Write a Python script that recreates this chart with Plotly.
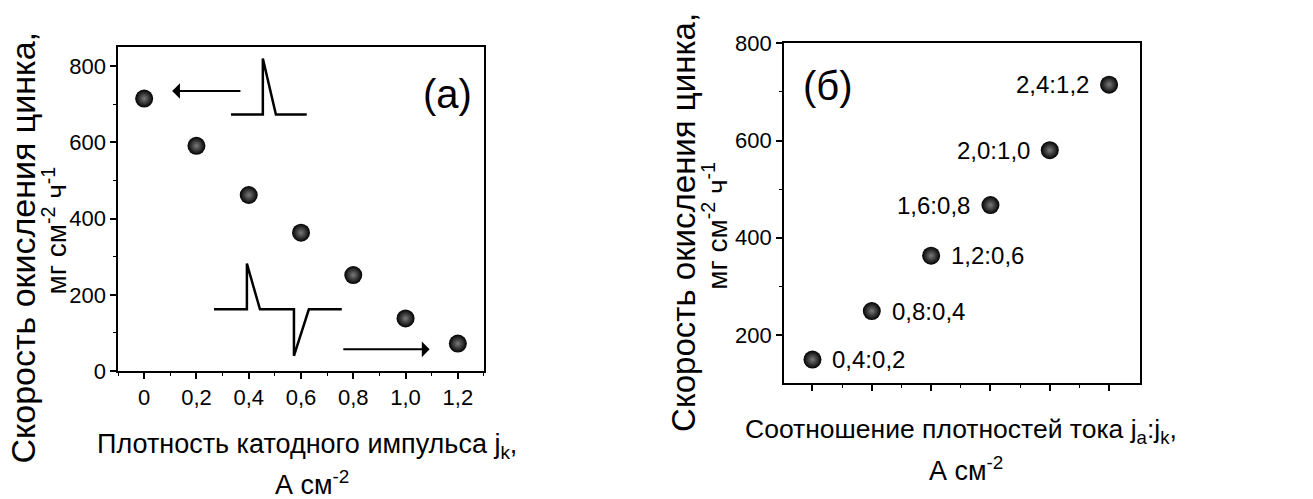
import plotly.graph_objects as go

# ---- data ----
xa = [0, 0.2, 0.4, 0.6, 0.8, 1.0, 1.2]
ya = [715, 591, 462, 363, 252, 138, 72]
xa_ticktext = ["0", "0,2", "0,4", "0,6", "0,8", "1,0", "1,2"]

xb = [1, 2, 3, 4, 5, 6]
yb = [149, 249, 363, 467, 580, 715]
labels_b = ["0,4:0,2", "0,8:0,4", "1,2:0,6", "1,6:0,8", "2,0:1,0", "2,4:1,2"]
label_side_b = ["right", "right", "right", "left", "left", "left"]

FONT = "Liberation Sans, Arial, sans-serif"

fig = go.Figure()

marker = dict(size=18, color="black", line=dict(width=0),
              gradient=dict(type="radial", color="#7a7a7a"))

fig.add_trace(go.Scatter(x=xa, y=ya, mode="markers", marker=marker,
                         xaxis="x", yaxis="y", showlegend=False))
fig.add_trace(go.Scatter(x=xb, y=yb, mode="markers", marker=marker,
                         xaxis="x2", yaxis="y2", showlegend=False))

axis_common = dict(showline=True, linecolor="black", linewidth=1.5, mirror=True,
                   ticks="outside", ticklen=6, tickwidth=1.5, tickcolor="black",
                   showgrid=False, zeroline=False,
                   tickfont=dict(family=FONT, size=22, color="black"))
minor_common = dict(ticks="outside", ticklen=3, tickwidth=1.2, tickcolor="black")

fig.update_layout(
    width=1313, height=499,
    margin=dict(l=0, r=0, t=0, b=0),
    paper_bgcolor="white", plot_bgcolor="white",
    font=dict(family=FONT, color="black"),
    xaxis=dict(domain=[0.0899, 0.3686], range=[-0.1, 1.3],
               tickvals=xa, ticktext=xa_ticktext, anchor="y", **axis_common,
               minor=dict(tickvals=[-0.1 + 0.2 * i for i in range(8)], **minor_common)),
    yaxis=dict(domain=[0.2425, 0.9259], range=[0, 850], anchor="x",
               tickvals=[0, 200, 400, 600, 800], **axis_common,
               minor=dict(tickvals=[100, 300, 500, 700], **minor_common)),
    xaxis2=dict(domain=[0.5971, 0.8682], range=[0.52, 6.52], anchor="y2",
                tickvals=xb, showticklabels=False, **axis_common,
                minor=dict(tickvals=[1.5, 2.5, 3.5, 4.5, 5.5], **minor_common)),
    yaxis2=dict(domain=[0.2164, 0.9339], range=[100, 800], anchor="x2",
                tickvals=[200, 400, 600, 800], **axis_common,
                minor=dict(tickvals=[300, 500, 700], **minor_common)),
)


def pa(x, y, text, size, angle=0, xanchor="center", yanchor="middle"):
    return dict(xref="paper", yref="paper", x=x / 1313, y=1 - y / 499, text=text,
                textangle=angle, showarrow=False, xanchor=xanchor, yanchor=yanchor,
                font=dict(family=FONT, size=size, color="black"))


ann = []
# axis titles, panel (a)
ann.append(pa(23, 248, "Скорость окисления цинка,", 34, -90))
ann.append(pa(55, 230, "мг см<sup>-2</sup> ч<sup>-1</sup>", 28, -90))
ann.append(pa(307, 457, "Плотность катодного импульса j<sub>k</sub>,", 27))
ann.append(pa(312, 496, "А см<sup>-2</sup>", 27))
# axis titles, panel (б)
ann.append(pa(684, 222, "Скорость окисления цинка,", 33, -90))
ann.append(pa(715, 225, "мг см<sup>-2</sup> ч<sup>-1</sup>", 28, -90))
ann.append(pa(961, 441, "Соотношение плотностей тока j<sub>a</sub>:j<sub>k</sub>,", 26.5))
ann.append(pa(966, 481, "А см<sup>-2</sup>", 27))
# panel labels
ann.append(pa(447, 86, "(а)", 40))
ann.append(pa(828, 78, "(б)", 40))
# point labels
for xv, yv, lab, side in zip(xb, yb, labels_b, label_side_b):
    ann.append(dict(xref="x2", yref="y2", x=xv, y=yv, text=lab, showarrow=False,
                    font=dict(family=FONT, size=24, color="black"),
                    xanchor="left" if side == "right" else "right",
                    xshift=18 if side == "right" else -18, yanchor="middle"))
# arrows in panel (a)
ann.append(dict(xref="x", yref="y", axref="x", ayref="y", x=0.107, y=735, ax=0.374, ay=735,
                showarrow=True, arrowhead=1, arrowsize=1.3, arrowwidth=2, arrowcolor="black", text=""))
ann.append(dict(xref="x", yref="y", axref="x", ayref="y", x=1.092, y=57, ax=0.756, ay=57,
                showarrow=True, arrowhead=1, arrowsize=1.3, arrowwidth=2, arrowcolor="black", text=""))
fig.update_layout(annotations=ann)

# pulse sketches in panel (a)
pulse1 = "M 0.332,673 L 0.454,673 L 0.454,820 L 0.504,673 L 0.622,673"
pulse2 = ("M 0.267,162 L 0.393,162 L 0.393,282 L 0.443,162 L 0.573,162 "
          "L 0.573,40 L 0.630,162 L 0.756,162")
fig.update_layout(shapes=[
    dict(type="path", xref="x", yref="y", path=pulse1, line=dict(color="black", width=2.5)),
    dict(type="path", xref="x", yref="y", path=pulse2, line=dict(color="black", width=2.5)),
])

fig.write_html("out.html")
